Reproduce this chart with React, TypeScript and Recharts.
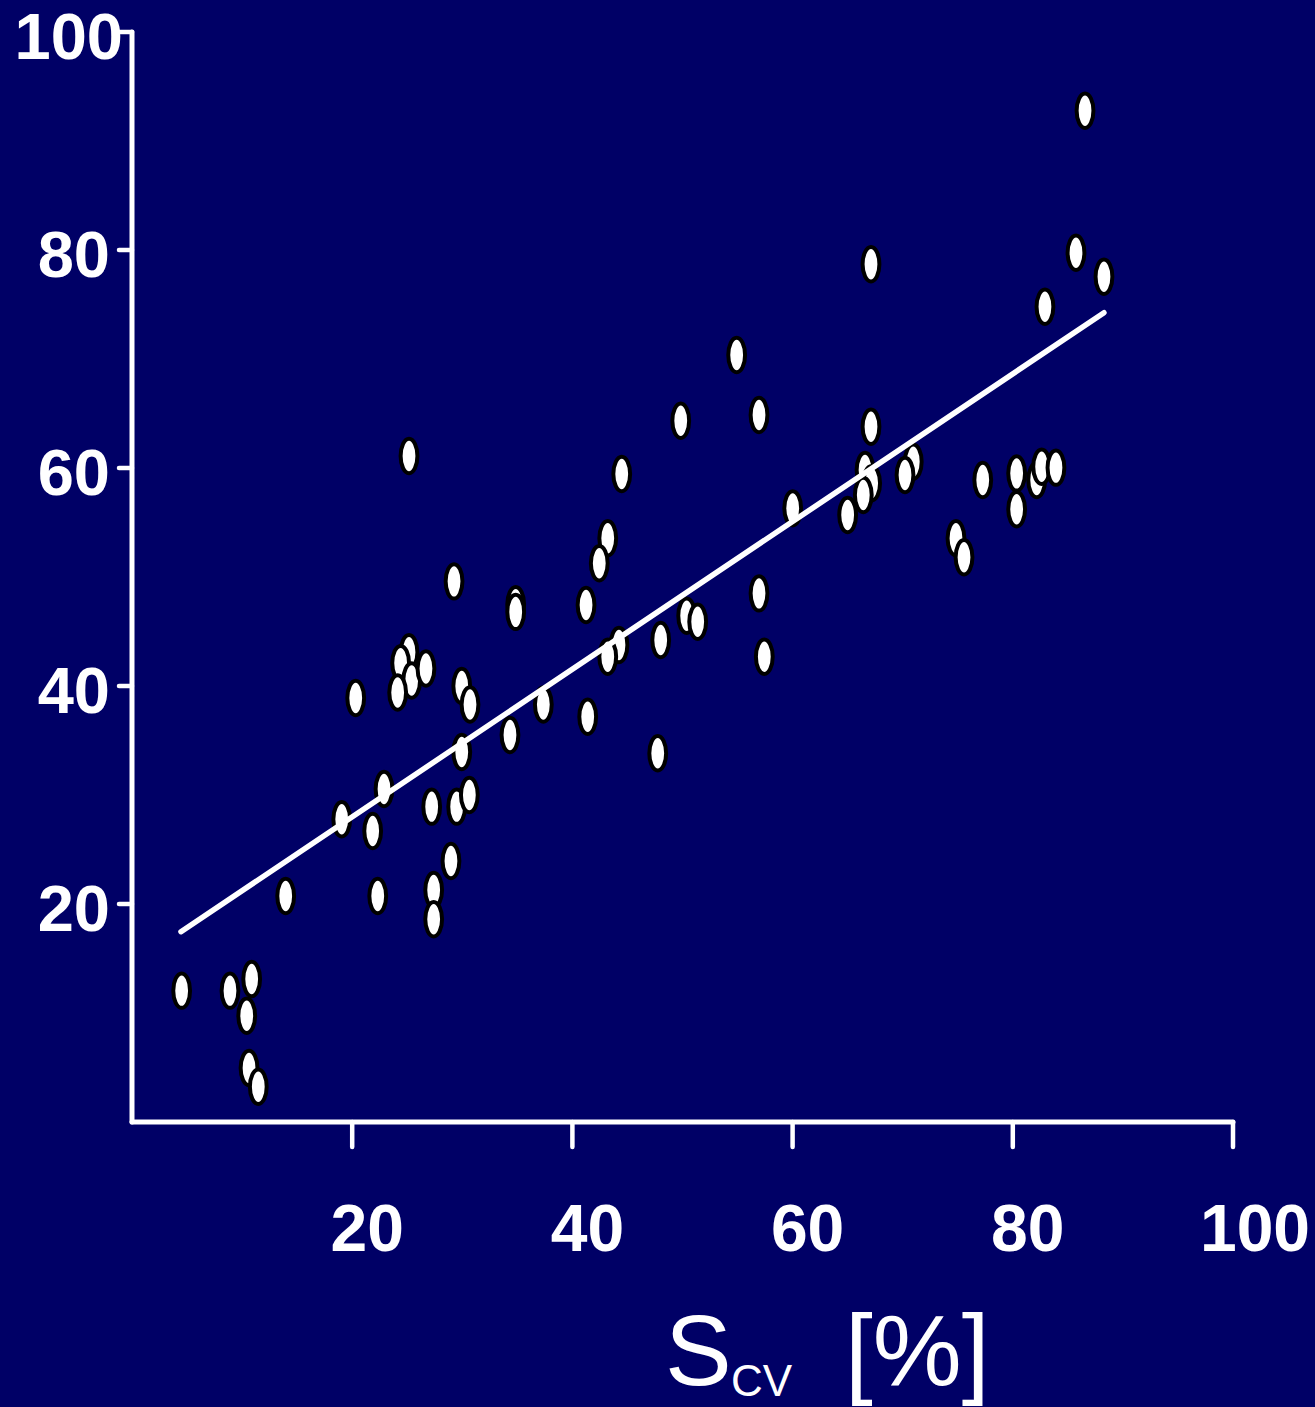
import React from 'react';
import { ScatterChart, Scatter, XAxis, YAxis, Label } from 'recharts';

// S_cv [%] (x) values for each patient marker
const scvPercent = [
  4.51, 8.9, 10.87, 10.42, 10.63, 11.47, 13.96, 19.05, 21.86, 22.89, 22.32, 27.22, 29.49, 30.64, 28.97, 27.4, 27.4, 29.95,
  25.16, 29.25, 34.85, 34.85, 25.16, 24.4, 25.4, 26.7, 24.13, 20.32, 29.95, 30.7, 37.36, 34.33,
  54.92, 49.84, 56.95, 44.48, 43.21, 42.44, 41.24, 60.01, 56.95, 50.38, 51.38, 48.02, 44.23, 43.21, 57.43, 41.39, 47.75,
  67.12, 85.74, 88.28, 82.92, 67.12, 66.58, 67.18, 66.42, 65.0, 70.96, 70.21, 77.27, 80.35, 80.35, 82.17, 82.62, 83.92, 74.84, 75.57,
  86.56,
];

// y values (%) for each patient marker
const yPercent = [
  12.05, 12.05, 13.12, 9.75, 4.95, 3.24, 20.73, 27.77, 26.7, 30.55, 20.73, 28.93, 28.93, 30.0, 23.94, 21.28, 18.6, 33.94,
  61.1, 49.6, 47.5, 46.8, 43.1, 42.1, 40.5, 41.6, 39.4, 38.9, 40.0, 38.3, 38.3, 35.5,
  70.37, 64.34, 64.86, 59.45, 53.55, 51.26, 47.43, 56.3, 48.5, 46.45, 45.9, 44.22, 43.76, 42.69, 42.69, 37.18, 33.83,
  78.69, 79.75, 77.55, 74.8, 63.79, 59.82, 58.6, 57.52, 55.69, 60.58, 59.36, 58.9, 59.51, 56.21, 58.9, 60.12, 60.03, 53.55, 51.81,
  92.78,
];

// regression line end points
const fitX = [4.45, 88.28];
const fitY = [17.46, 74.25];

const xTicks = [20, 40, 60, 80, 100];
const yTicks = [20, 40, 60, 80, 100];

const points = scvPercent.map((x, i) => ({ x, y: yPercent[i] }));
const fitLine = fitX.map((x, i) => ({ x, y: fitY[i] }));

const FONT = '"Liberation Sans", Arial, Helvetica, sans-serif';
const BG = '#000066';

const EllipseDot = (props: any) => {
  const { cx, cy } = props;
  if (cx == null || cy == null) return null;
  return <ellipse cx={cx} cy={cy} rx={8.4} ry={17.2} fill="#ffffff" stroke="#000000" strokeWidth={4} />;
};

const NoDot = () => null;

const XTick = (props: any) => {
  const { x, y, payload } = props;
  const off = payload.value === 100 ? 22 : 15;
  return (
    <text x={x + off} y={y + 104} textAnchor="middle" fill="#ffffff" fontFamily={FONT} fontWeight="bold" fontSize={66}>
      {payload.value}
    </text>
  );
};

const YTick = (props: any) => {
  const { x, y, payload } = props;
  const off = payload.value === 100 ? 4 : -9;
  return (
    <text x={x + off} y={y + 27} textAnchor="end" fill="#ffffff" fontFamily={FONT} fontWeight="bold" fontSize={65}>
      {payload.value}
    </text>
  );
};

const XTitle = () => (
  <g fill="#ffffff" fontFamily={FONT}>
    <text x={665} y={1385} fontSize={100}>S</text>
    <text x={731} y={1396} fontSize={44}>CV</text>
    <text x={845} y={1385} fontSize={100}>[%]</text>
  </g>
);

export default function App() {
  return (
    <div style={{ position: 'absolute', left: 0, top: 0, width: 1315, height: 1407, background: BG, overflow: 'hidden' }}>
      <ScatterChart width={1315} height={1407} margin={{ top: 32, right: 82, bottom: 0, left: 0 }}>
        <XAxis
          type="number"
          dataKey="x"
          domain={[0, 100]}
          ticks={xTicks}
          allowDataOverflow
          height={285}
          tickSize={25}
          tickMargin={0}
          axisLine={{ stroke: '#ffffff', strokeWidth: 5, strokeLinecap: 'round' }}
          tickLine={{ stroke: '#ffffff', strokeWidth: 4.5, strokeLinecap: 'round' }}
          tick={<XTick />}
          interval={0}
        >
          <Label content={<XTitle />} />
        </XAxis>
        <YAxis
          type="number"
          dataKey="y"
          domain={[0, 100]}
          ticks={yTicks}
          allowDataOverflow
          width={132}
          tickSize={13}
          tickMargin={0}
          axisLine={{ stroke: '#ffffff', strokeWidth: 5, strokeLinecap: 'round' }}
          tickLine={{ stroke: '#ffffff', strokeWidth: 4.5, strokeLinecap: 'round' }}
          tick={<YTick />}
          interval={0}
        />
        <Scatter data={points} shape={<EllipseDot />} isAnimationActive={false} />
        <Scatter
          data={fitLine}
          shape={<NoDot />}
          line={{ stroke: '#ffffff', strokeWidth: 5.5, strokeLinecap: 'round' }}
          isAnimationActive={false}
        />
      </ScatterChart>
    </div>
  );
}
